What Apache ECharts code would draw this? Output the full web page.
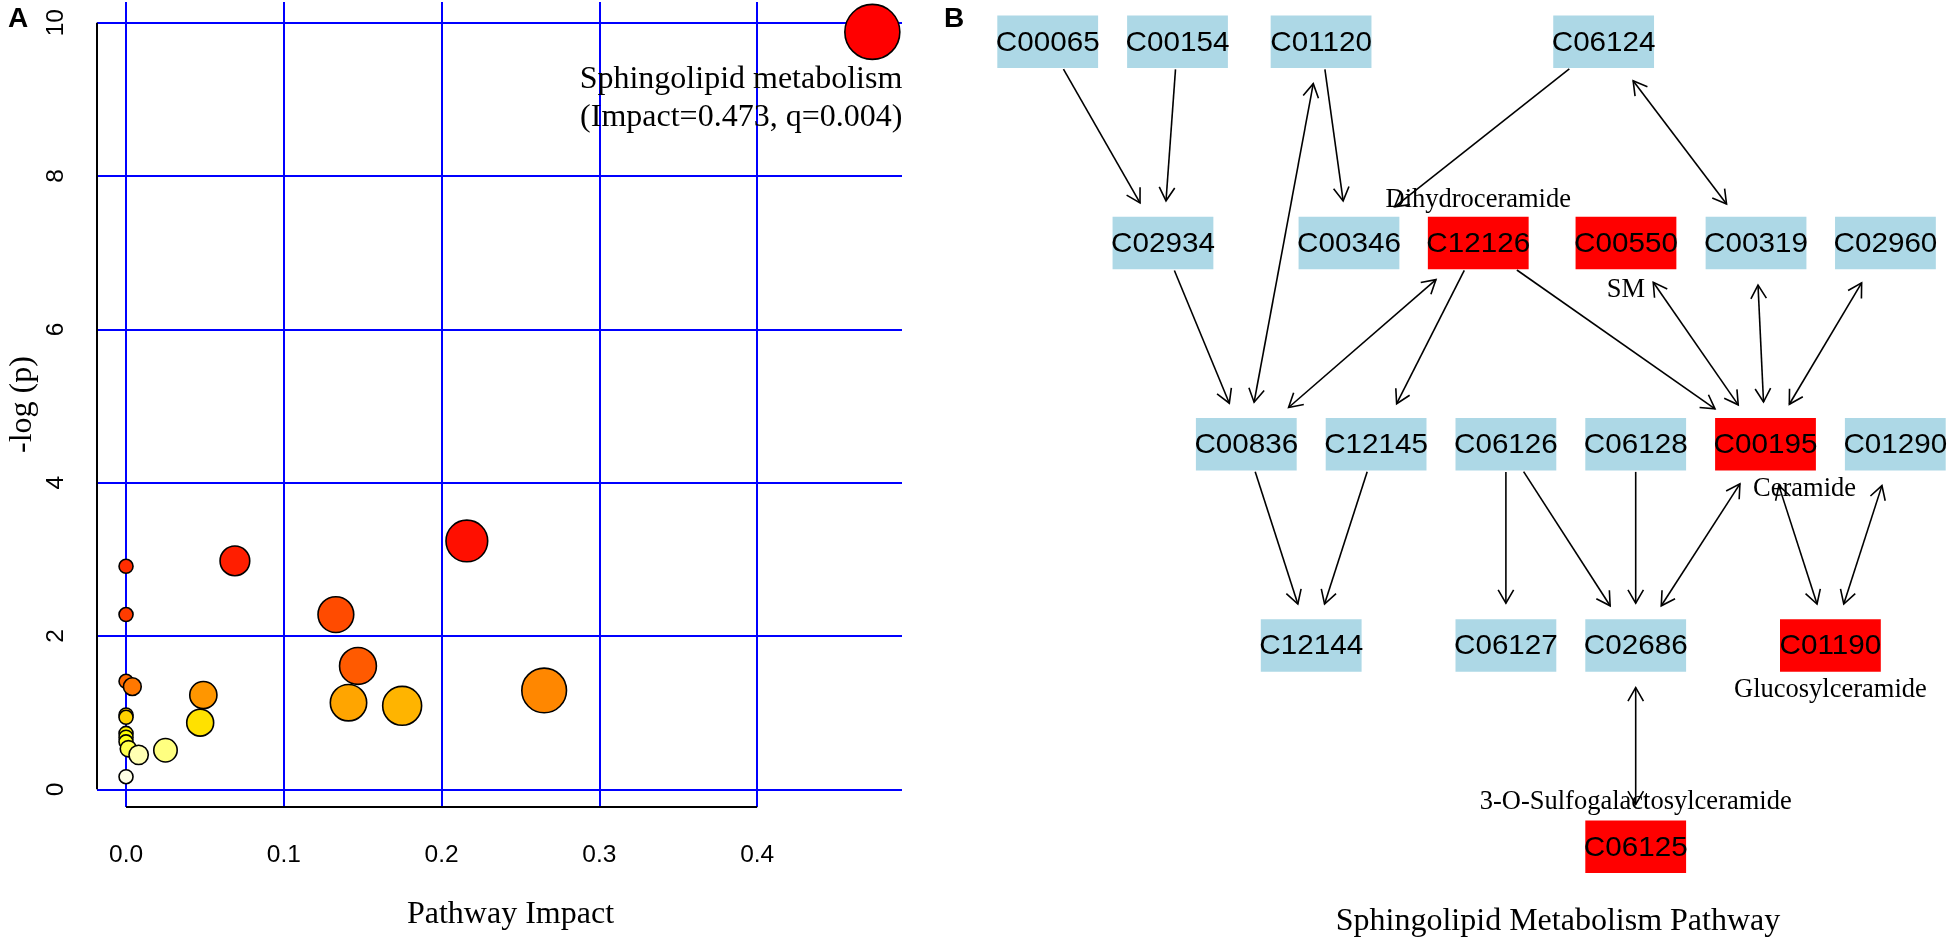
<!DOCTYPE html>
<html><head><meta charset="utf-8">
<script src="https://cdn.jsdelivr.net/npm/echarts@6/dist/echarts.min.js"></script>
<style>html,body{margin:0;padding:0;background:#fff}#c{width:1950px;height:941px}</style>
</head><body><div id="c"></div>
<script>
// ---------------- Panel A data ----------------
const impact  = [0.473, 0.216, 0.069, 0.000, 0.000, 0.133, 0.147, 0.000, 0.004, 0.265, 0.049, 0.141, 0.175, 0.000, 0.000, 0.047, 0.000, 0.000, 0.000, 0.0015, 0.025, 0.008, 0.000];
const negLogP = [9.88, 3.24, 2.98, 2.91, 2.28, 2.28, 1.61, 1.41, 1.34, 1.29, 1.23, 1.13, 1.09, 0.97, 0.94, 0.87, 0.73, 0.68, 0.62, 0.53, 0.51, 0.45, 0.165];
const xTicks = [0, 0.1, 0.2, 0.3, 0.4];
const yTicks = [0, 2, 4, 6, 8, 10];
const annotIndex = 0;
const annotLines = ['Sphingolipid metabolism', '(Impact=0.473, q=0.004)'];
const xTitle = 'Pathway Impact';
const yTitle = '-log (p)';

// ---------------- Panel B data ----------------
const nodeIds = ['C00065','C00154','C01120','C06124','C02934','C00346','C12126','C00550','C00319','C02960','C00836','C12145','C06126','C06128','C00195','C01290','C12144','C06127','C02686','C01190','C06125'];
const nodeRow = [0,0,0,0, 1,1,1,1,1,1, 2,2,2,2,2,2, 3,3,3,3, 4];
const nodeCol = [-1.53,-0.53,0.576,2.753, -0.642,0.791,1.787,2.925,3.927,4.924, 0,1,2,3,4,5, 0.5,2,3,4.5, 3];
const hitNodes = ['C12126','C00550','C00195','C01190','C06125'];
const nodeNames = {C12126:'Dihydroceramide', C00550:'SM', C00195:'Ceramide', C01190:'Glucosylceramide', C06125:'3-O-Sulfogalactosylceramide'};
// [source, target, bidirectional]
const edgeList = [
  ['C00065','C02934',0], ['C00154','C02934',0], ['C01120','C00346',0], ['C06124','C00346',0],
  ['C06124','C00319',1], ['C02934','C00836',0], ['C00836','C01120',1], ['C12126','C00836',1],
  ['C12126','C12145',0], ['C12126','C00195',0], ['C00550','C00195',1], ['C00319','C00195',1],
  ['C02960','C00195',1], ['C00836','C12144',0], ['C12145','C12144',0], ['C06126','C06127',0],
  ['C06126','C02686',0], ['C06128','C02686',0], ['C02686','C00195',1], ['C00195','C01190',1],
  ['C01290','C01190',1], ['C02686','C06125',1]
];
const panelBTitle = 'Sphingolipid Metabolism Pathway';

// ---------------- styles ----------------
const SERIF = "'Liberation Serif','Times New Roman',serif";
const SANS = "'Liberation Sans',Arial,sans-serif";
const GRID_BLUE = '#0000FF';
const NODE_W = 100.8, NODE_H = 52.4, ARROW_GAP = 16, ARROW_LEN = 15.5, ARROW_ANG = Math.PI / 6;
const nameStyle = {C12126:{dx:0,dy:-43}, C00550:{dx:0,dy:47}, C00195:{dx:39,dy:45}, C01190:{dx:0,dy:45}, C06125:{dx:0,dy:-45}};

function hsv2hex(h, s, v) {
  const f = (n) => { const k = (n + h / 60) % 6; return v - v * s * Math.max(Math.min(k, 4 - k, 1), 0); };
  const to = (x) => Math.round(x * 255).toString(16).padStart(2, '0');
  return '#' + to(f(5)) + to(f(3)) + to(f(1));
}
// R heat.colors(n)
function heatColors(n) {
  const j = Math.floor(n / 4), i = n - j, out = [];
  for (let k = 0; k < i; k++) out.push(hsv2hex(i > 1 ? 60 * k / (i - 1) : 0, 1, 1));
  const s0 = 1 - 1 / (2 * j), s1 = 1 / (2 * j);
  for (let k = 0; k < j; k++) out.push(hsv2hex(60, j > 1 ? s0 + (s1 - s0) * k / (j - 1) : 0.5, 1));
  return out;
}
const heat = heatColors(negLogP.length);
const order = negLogP.map((v, i) => i).sort((a, b) => negLogP[b] - negLogP[a]);
const rankOf = []; order.forEach((idx, r) => rankOf[idx] = r);

const X_MIN = -0.0184, X_MAX = 0.4918, Y_MIN = -0.23, Y_MAX = 10.27;

const scatterData = impact.map((x, i) => {
  const item = { value: [x, negLogP[i]], itemStyle: { color: heat[rankOf[i]] } };
  if (i === annotIndex) {
    item.label = {
      show: true, formatter: annotLines.join('\n'), position: 'inside',
      align: 'right', verticalAlign: 'middle', offset: [30, 67],
      fontFamily: SERIF, fontSize: 32, lineHeight: 38, color: '#000'
    };
  }
  return item;
});

const colOf = (id) => nodeCol[nodeIds.indexOf(id)];
const rowOf = (id) => nodeRow[nodeIds.indexOf(id)];

function edgeRender(params, api) {
  const ps = api.coord([api.value(0), api.value(1)]);
  const pt = api.coord([api.value(2), api.value(3)]);
  const bidir = api.value(4) === 1;
  const dx = pt[0] - ps[0], dy = pt[1] - ps[1], L = Math.hypot(dx, dy), ux = dx / L, uy = dy / L;
  const tb = Math.min(Math.abs(ux) > 1e-6 ? NODE_W / 2 / Math.abs(ux) : Infinity, Math.abs(uy) > 1e-6 ? NODE_H / 2 / Math.abs(uy) : Infinity);
  const ga = tb + (bidir ? ARROW_GAP : 1.5), gb = tb + ARROW_GAP;
  const a = [ps[0] + ux * ga, ps[1] + uy * ga];
  const b = [pt[0] - ux * gb, pt[1] - uy * gb];
  const st = { stroke: '#000', lineWidth: 1.6, fill: 'none' };
  const head = (tip, dx2, dy2) => {
    const bx = -dx2, by = -dy2, c = Math.cos(ARROW_ANG), s = Math.sin(ARROW_ANG);
    const p1 = [tip[0] + ARROW_LEN * (bx * c - by * s), tip[1] + ARROW_LEN * (bx * s + by * c)];
    const p2 = [tip[0] + ARROW_LEN * (bx * c + by * s), tip[1] + ARROW_LEN * (-bx * s + by * c)];
    return { type: 'polyline', shape: { points: [p1, tip, p2] }, style: st };
  };
  const children = [{ type: 'line', shape: { x1: a[0], y1: a[1], x2: b[0], y2: b[1] }, style: st }, head(b, ux, uy)];
  if (bidir) children.push(head(a, -ux, -uy));
  return { type: 'group', children };
}

function nodeRender(params, api) {
  const id = nodeIds[params.dataIndex];
  const p = api.coord([api.value(0), api.value(1)]);
  const children = [
    { type: 'rect', shape: { x: p[0] - NODE_W / 2, y: p[1] - NODE_H / 2, width: NODE_W, height: NODE_H },
      style: { fill: hitNodes.includes(id) ? '#FF0000' : '#ADD8E6' } },
    { type: 'text', x: p[0], y: p[1] + 1, scaleX: 1.04,
      style: { text: id, x: 0, y: 0, align: 'center', verticalAlign: 'middle',
      textAlign: 'center', textVerticalAlign: 'middle', font: '28.5px ' + SANS, fill: '#000' } }
  ];
  if (nodeNames[id]) {
    const ns = nameStyle[id];
    children.push({ type: 'text', style: { text: nodeNames[id], x: p[0] + ns.dx, y: p[1] + ns.dy,
      align: 'center', verticalAlign: 'middle', textAlign: 'center', textVerticalAlign: 'middle',
      font: '26.5px ' + SERIF, fill: '#000' } });
  }
  return { type: 'group', children };
}

const chart = echarts.init(document.getElementById('c'), null, { renderer: 'canvas' });
chart.setOption({
  animation: false,
  backgroundColor: '#fff',
  grid: [
    { left: 97, top: 2, width: 805, height: 805, outerBoundsMode: 'none', containLabel: false },
    { left: 980, top: 0, width: 970, height: 941, outerBoundsMode: 'none', containLabel: false }
  ],
  xAxis: [
    { type: 'value', gridIndex: 0, min: X_MIN, max: X_MAX,
      axisLine: { show: false }, splitLine: { show: false },
      axisTick: { show: true, customValues: xTicks, length: 15, inside: false, lineStyle: { color: '#000', width: 2 } },
      axisLabel: { show: true, customValues: xTicks, formatter: (v) => v.toFixed(1), margin: 48,
        verticalAlign: 'middle', fontFamily: SANS, fontSize: 24.5, color: '#000' },
      name: xTitle, nameLocation: 'middle', nameGap: 108,
      nameTextStyle: { fontFamily: SERIF, fontSize: 32, color: '#000', verticalAlign: 'middle', padding: [0, 0, 0, 22] } },
    { type: 'value', gridIndex: 1, min: -2.0516, max: 5.4214, show: false }
  ],
  yAxis: [
    { type: 'value', gridIndex: 0, min: Y_MIN, max: Y_MAX,
      axisLine: { show: false }, splitLine: { show: false },
      axisTick: { show: true, customValues: yTicks, length: 15, inside: false, lineStyle: { color: '#000', width: 2 } },
      axisLabel: { show: true, customValues: yTicks, formatter: (v) => String(Math.round(v)), rotate: 90, margin: 41,
        align: 'center', verticalAlign: 'middle', fontFamily: SANS, fontSize: 24.5, color: '#000' },
      name: yTitle, nameLocation: 'middle', nameGap: 74, nameRotate: 90,
      nameTextStyle: { fontFamily: SERIF, fontSize: 32, color: '#000', align: 'center', verticalAlign: 'middle' } },
    { type: 'value', gridIndex: 1, min: -0.2072, max: 4.4686, inverse: true, show: false }
  ],
  graphic: [
    { type: 'text', left: 8, top: 5, style: { text: 'A', font: 'bold 28px ' + SANS, fill: '#000' } },
    { type: 'text', left: 944, top: 5, style: { text: 'B', font: 'bold 28px ' + SANS, fill: '#000' } },
    { type: 'text', x: 1558, y: 922, style: { text: panelBTitle, x: 0, y: 0, align: 'center', verticalAlign: 'middle',
      textAlign: 'center', textVerticalAlign: 'middle', font: '32px ' + SERIF, fill: '#000' } }
  ],
  series: [
    { type: 'scatter', xAxisIndex: 0, yAxisIndex: 0, data: [], z: 1, silent: true,
      markLine: { silent: true, z: 1, symbol: ['none', 'none'], animation: false,
        label: { show: false }, lineStyle: { color: GRID_BLUE, width: 2, type: 'solid' },
        emphasis: { disabled: true },
        data: [...yTicks.map((v) => ({ yAxis: v })), ...xTicks.map((v) => ({ xAxis: v }))] } },
    { type: 'scatter', xAxisIndex: 0, yAxisIndex: 0, data: [], z: 2, silent: true,
      markLine: { silent: true, z: 2, symbol: ['none', 'none'], animation: false,
        label: { show: false }, lineStyle: { color: '#000', width: 2, type: 'solid' },
        emphasis: { disabled: true },
        data: [
          [{ coord: [X_MIN, yTicks[0]] }, { coord: [X_MIN, yTicks[yTicks.length - 1]] }],
          [{ coord: [xTicks[0], Y_MIN] }, { coord: [xTicks[xTicks.length - 1], Y_MIN] }]
        ] } },
    { type: 'scatter', xAxisIndex: 0, yAxisIndex: 0, z: 3, silent: true,
      symbol: 'circle', symbolSize: (v) => 2 * (7 + 29.8 * Math.sqrt(v[0])),
      itemStyle: { borderColor: '#000', borderWidth: 1.6, opacity: 1 },
      data: scatterData },
    { type: 'custom', xAxisIndex: 1, yAxisIndex: 1, z: 4, silent: true, clip: false,
      renderItem: edgeRender, encode: { x: [0, 2], y: [1, 3] },
      data: edgeList.map((e) => [colOf(e[0]), rowOf(e[0]), colOf(e[1]), rowOf(e[1]), e[2]]) },
    { type: 'custom', xAxisIndex: 1, yAxisIndex: 1, z: 5, silent: true, clip: false,
      renderItem: nodeRender, encode: { x: 0, y: 1 },
      data: nodeIds.map((id, i) => [nodeCol[i], nodeRow[i]]) }
  ]
});
</script></body></html>
